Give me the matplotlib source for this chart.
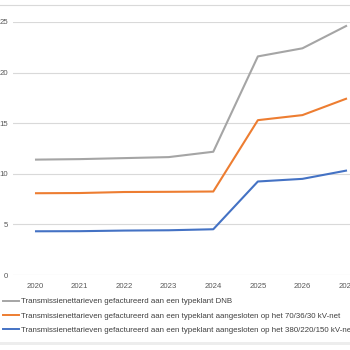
import matplotlib
matplotlib.use("Agg")
import matplotlib.pyplot as plt
from matplotlib.lines import Line2D

years = ["2020", "2021", "2022", "2023", "2024", "2025", "2026", "2027"]
dnb = [11.4, 11.45, 11.55, 11.65, 12.18, 21.6, 22.4, 24.65]
net_70 = [8.08, 8.1, 8.2, 8.22, 8.25, 15.3, 15.8, 17.45]
net_380 = [4.32, 4.33, 4.39, 4.42, 4.52, 9.24, 9.5, 10.33]
labels = [
    "Transmissienettarieven gefactureerd aan een typeklant DNB",
    "Transmissienettarieven gefactureerd aan een typeklant aangesloten op het 70/36/30 kV-net",
    "Transmissienettarieven gefactureerd aan een typeklant aangesloten op het 380/220/150 kV-net",
]
yticks = [0, 5, 10, 15, 20, 25]
colors = ["#A5A5A5", "#ED7D31", "#4472C4"]

plt.rcParams['font.family'] = ['Liberation Sans', 'DejaVu Sans']

W = H = 350
fig = plt.figure(figsize=(3.5, 3.5), dpi=100)
left_px, right_px = 12.7, 369.3
bottom_px, top_px = 275, 22
ax = fig.add_axes([left_px / W, 1 - bottom_px / H, (right_px - left_px) / W, (bottom_px - top_px) / H])

x = list(range(len(years)))
for series, c in zip([dnb, net_70, net_380], colors):
    ax.plot(x, series, color=c, lw=1.5, solid_capstyle='butt', clip_on=False, zorder=3)

ax.set_xlim(-0.5, len(years) - 0.5)
ax.set_ylim(0, 25)
ax.set_yticks(yticks)
ax.set_yticklabels([str(v) for v in yticks])
ax.set_xticks(x)
ax.set_xticklabels(years)
ax.grid(axis='y', color='#D9D9D9', lw=0.8)
ax.set_axisbelow(True)
for s in ax.spines.values():
    s.set_visible(False)
ax.tick_params(axis='both', length=0, labelsize=5.6, colors='#595959')
ax.tick_params(axis='y', pad=3.5)
ax.tick_params(axis='x', pad=6)

# top border line and bottom gray band
fig.add_artist(Line2D([0, 1], [1 - 5 / H, 1 - 5 / H], color='#D9D9D9', lw=0.8))
fig.add_artist(plt.Rectangle((0, 1 - 345 / H), 1, 3.5 / H, color='#EDEDED', lw=0))

handles = [Line2D([], [], color=c, lw=1.4) for c in colors]
fig.legend(handles, labels, loc='upper left', bbox_to_anchor=(3 / W, 1 - 298 / H),
           frameon=False, fontsize=5.65, handlelength=2.1, handletextpad=0.2,
           labelspacing=0.85, borderaxespad=0, borderpad=0, labelcolor='#404040')

fig.savefig("out.png", dpi=100)
